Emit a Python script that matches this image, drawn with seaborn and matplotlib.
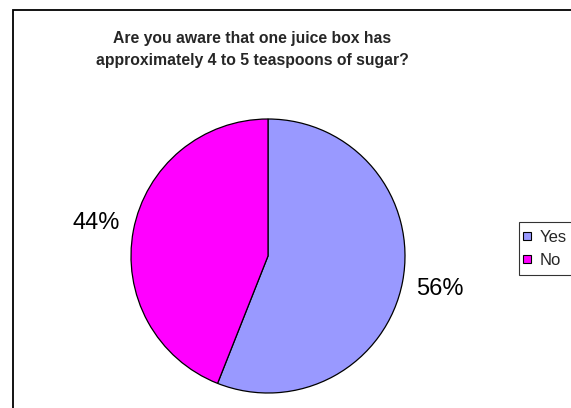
import matplotlib
matplotlib.use("Agg")
import matplotlib.pyplot as plt
from matplotlib.lines import Line2D
from matplotlib.patches import Rectangle
import seaborn as sns

# Data
categories = ["Yes", "No"]
values = [56, 44]
title_text = "Are you aware that one juice box has\napproximately 4 to 5 teaspoons of sugar?"

sns.set_style("white")
plt.rcParams['font.family'] = ['Liberation Sans', 'DejaVu Sans']

colors = sns.color_palette(["#9999FF", "#FF00FF"])

W, H = 571, 408
fig = plt.figure(figsize=(W / 100, H / 100), dpi=100)

# pie axes: center (268,256) px, radius 137 px
R = 137.0
lim = 1.4
size = 2 * lim * R
cx, cy = 268.0, H - 256.0
ax = fig.add_axes([(cx - size / 2) / W, (cy - size / 2) / H, size / W, size / H])

wedges, texts, autotexts = ax.pie(
    values, colors=colors, startangle=90, counterclock=False,
    autopct='%1.0f%%', pctdistance=1.28,
    wedgeprops=dict(edgecolor='black', linewidth=0.9),
    textprops=dict(fontsize=17, color='black'),
)
ax.set_xlim(-lim, lim)
ax.set_ylim(-lim, lim)
ax.set_aspect('equal')
ax.axis('off')

# title
fig.text(252 / W, 1 - 49.5 / H, title_text, ha='center', va='center',
         fontweight='bold', fontsize=11.3, linespacing=1.55)

# legend
handles = [Line2D([], [], linestyle='none', marker='s', markersize=5.4,
                  markerfacecolor=c, markeredgecolor='black', markeredgewidth=0.8)
           for c in colors]
leg = fig.legend(handles, categories, loc='upper left',
                 bbox_to_anchor=(519 / W, 1 - 222 / H),
                 bbox_transform=fig.transFigure,
                 fontsize=12, frameon=True, fancybox=False,
                 edgecolor='black', borderpad=0.45, labelspacing=0.5,
                 handlelength=0.1, handleheight=0.7, handletextpad=0.7,
                 borderaxespad=0.0)
leg.get_frame().set_linewidth(0.8)

# outer chart frame (extends past the right and bottom edges)
frame = Rectangle((13 / W, -0.05), 1.1, 1 - 10 / H + 0.05,
                  transform=fig.transFigure, fill=False,
                  edgecolor='black', linewidth=1.3, clip_on=False)
fig.patches.append(frame)

fig.savefig("out.png", dpi=100)
